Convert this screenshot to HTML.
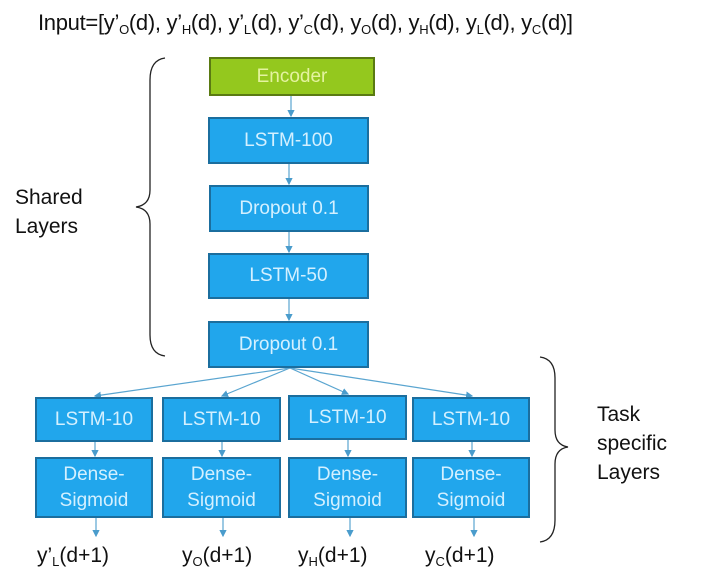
<!DOCTYPE html>
<html><head><meta charset="utf-8"><style>
body{margin:0;width:708px;height:586px;background:#fff;position:relative;overflow:hidden;font-family:"Liberation Sans",sans-serif;}
.b{position:absolute;box-sizing:border-box;background:#21a6ec;border:2px solid #1b6e9e;color:#d4f0ff;font-size:19px;display:flex;align-items:center;justify-content:center;text-align:center;line-height:26px;}
.t{position:absolute;color:#111;font-size:21px;line-height:29px;}
sub{font-size:13px;vertical-align:-4px;line-height:0;}
</style></head><body>
<div class="t" style="left:38px;top:8px;font-size:22px;white-space:nowrap;letter-spacing:-0.3px">Input=[y’<sub>O</sub>(d), y’<sub>H</sub>(d), y’<sub>L</sub>(d), y’<sub>C</sub>(d), y<sub>O</sub>(d), y<sub>H</sub>(d), y<sub>L</sub>(d), y<sub>C</sub>(d)]</div>
<svg width="708" height="586" style="position:absolute;left:0;top:0">
<defs><marker id="a" markerWidth="6" markerHeight="6" refX="5" refY="3" orient="auto"><path d="M0,0L6,3L0,6z" fill="#4a9ccc"/></marker></defs>
<g stroke="#5aa5d0" stroke-width="1.2" fill="none" marker-end="url(#a)">
<line x1="291" y1="96" x2="291" y2="116"/>
<line x1="289" y1="164" x2="289" y2="184"/>
<line x1="289" y1="232" x2="289" y2="252"/>
<line x1="289" y1="299" x2="289" y2="320"/>
<line x1="290" y1="368" x2="95" y2="396"/>
<line x1="290" y1="368" x2="222" y2="396"/>
<line x1="290" y1="368" x2="348" y2="394"/>
<line x1="290" y1="368" x2="472" y2="396"/>
<line x1="95" y1="442" x2="95" y2="456"/><line x1="222" y1="442" x2="222" y2="456"/>
<line x1="348" y1="440" x2="348" y2="456"/><line x1="472" y1="442" x2="472" y2="456"/>
<line x1="96" y1="518" x2="96" y2="536"/><line x1="223" y1="518" x2="223" y2="536"/>
<line x1="350" y1="518" x2="350" y2="536"/><line x1="474" y1="518" x2="474" y2="536"/>
</g>
<g stroke="#222" stroke-width="1.3" fill="none">
<path d="M165,58 Q150,60 150,80 L150,190 Q150,205 136,207 Q150,209 150,224 L150,335 Q150,354 165,356"/>
<path d="M540,357 Q555,359 555,378 L555,430 Q555,445 568,447 Q555,449 555,464 L555,520 Q555,540 540,542"/>
</g>
</svg>
<div class="b" style="left:209px;top:57px;width:166px;height:39px;background:#94c81e;border-color:#5a7a12;color:#e4f3a0">Encoder</div>
<div class="b" style="left:208px;top:117px;width:161px;height:47px">LSTM-100</div>
<div class="b" style="left:209px;top:185px;width:160px;height:47px">Dropout 0.1</div>
<div class="b" style="left:208px;top:253px;width:161px;height:46px">LSTM-50</div>
<div class="b" style="left:208px;top:321px;width:161px;height:47px">Dropout 0.1</div>
<div class="b" style="left:35px;top:397px;width:118px;height:45px">LSTM-10</div>
<div class="b" style="left:162px;top:397px;width:119px;height:45px">LSTM-10</div>
<div class="b" style="left:288px;top:395px;width:119px;height:45px">LSTM-10</div>
<div class="b" style="left:412px;top:397px;width:118px;height:45px">LSTM-10</div>
<div class="b" style="left:35px;top:457px;width:118px;height:61px">Dense-<br>Sigmoid</div>
<div class="b" style="left:162px;top:457px;width:119px;height:61px">Dense-<br>Sigmoid</div>
<div class="b" style="left:288px;top:457px;width:119px;height:61px">Dense-<br>Sigmoid</div>
<div class="b" style="left:412px;top:457px;width:118px;height:61px">Dense-<br>Sigmoid</div>
<div class="t" style="left:15px;top:183px">Shared<br>Layers</div>
<div class="t" style="left:597px;top:400px">Task<br>specific<br>Layers</div>
<div class="t" style="left:37px;top:541px">y’<sub>L</sub>(d+1)</div>
<div class="t" style="left:182px;top:541px">y<sub>O</sub>(d+1)</div>
<div class="t" style="left:298px;top:541px">y<sub>H</sub>(d+1)</div>
<div class="t" style="left:425px;top:541px">y<sub>C</sub>(d+1)</div>
</body></html>
